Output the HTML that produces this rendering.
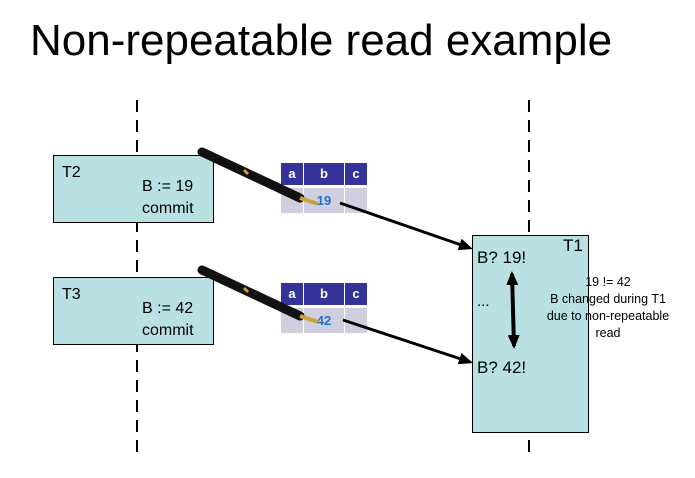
<!DOCTYPE html>
<html><head><style>
body{margin:0;width:695px;height:478px;background:#fff;position:relative;overflow:hidden;font-family:"Liberation Sans",sans-serif}
.t{position:absolute;white-space:nowrap}
.box{position:absolute;background:#b9e0e3;border:1px solid #000;box-sizing:border-box}
.h{position:absolute;background:#333399;color:#fff;font-weight:bold;font-size:13px;text-align:center;line-height:22px}
.d{position:absolute;background:#cfcfe0;color:#1f72c8;font-weight:bold;font-size:13px;text-align:center;line-height:25px}
</style></head><body>
<div class="t" style="left:30px;top:16px;font-size:44px">Non-repeatable read example</div>
<svg width="695" height="478" style="position:absolute;left:0;top:0">
<line x1="137" y1="100" x2="137" y2="460" stroke="#000" stroke-width="2" stroke-dasharray="12,8"/>
<line x1="529" y1="100" x2="529" y2="460" stroke="#000" stroke-width="2" stroke-dasharray="12,8"/>
</svg>
<div class="box" style="left:53px;top:155px;width:161px;height:68px"></div>
<div class="t" style="left:62px;top:164px;font-size:16px">T2</div>
<div class="t" style="left:142px;top:178px;font-size:16px">B := 19</div>
<div class="t" style="left:142px;top:200px;font-size:16px">commit</div>
<div class="box" style="left:53px;top:277px;width:161px;height:68px"></div>
<div class="t" style="left:62px;top:286px;font-size:16px">T3</div>
<div class="t" style="left:142px;top:300px;font-size:16px">B := 42</div>
<div class="t" style="left:142px;top:322px;font-size:16px">commit</div>
<div class="box" style="left:472px;top:235px;width:117px;height:198px"></div>
<div class="t" style="left:563px;top:236px;font-size:17px">T1</div>
<div class="t" style="left:477px;top:248px;font-size:17px">B? 19!</div>
<div class="t" style="left:477px;top:293px;font-size:15px">...</div>
<div class="t" style="left:477px;top:358px;font-size:17px">B? 42!</div>
<div class="t" style="left:528px;top:274px;width:160px;text-align:center;font-size:12.5px;line-height:17px;white-space:normal">19 != 42<br>B changed during T1<br>due to non-repeatable<br>read</div>
<div class="h" style="left:281px;top:163px;width:22px">a</div>
<div class="h" style="left:304px;top:163px;width:40px">b</div>
<div class="h" style="left:345px;top:163px;width:22px">c</div>
<div class="d" style="left:281px;top:188px;width:22px">&nbsp;</div>
<div class="d" style="left:304px;top:188px;width:40px">19</div>
<div class="d" style="left:345px;top:188px;width:22px">&nbsp;</div>
<div class="h" style="left:281px;top:283px;width:22px">a</div>
<div class="h" style="left:304px;top:283px;width:40px">b</div>
<div class="h" style="left:345px;top:283px;width:22px">c</div>
<div class="d" style="left:281px;top:308px;width:22px">&nbsp;</div>
<div class="d" style="left:304px;top:308px;width:40px">42</div>
<div class="d" style="left:345px;top:308px;width:22px">&nbsp;</div>
<svg width="695" height="478" style="position:absolute;left:0;top:0">
<defs>
<marker id="b" markerWidth="14" markerHeight="12" refX="11" refY="6" orient="auto-start-reverse" markerUnits="userSpaceOnUse"><path d="M0,0 L14,6 L0,12z"/></marker></defs>
<line x1="340" y1="203" x2="470" y2="248" stroke="#000" stroke-width="3" marker-end="url(#b)"/>
<line x1="343" y1="320" x2="470" y2="362" stroke="#000" stroke-width="3" marker-end="url(#b)"/>
<line x1="512" y1="274" x2="514" y2="346" stroke="#000" stroke-width="4" marker-start="url(#b)" marker-end="url(#b)"/>
<g><line x1="202" y1="152" x2="300" y2="198" stroke="#111" stroke-width="9" stroke-linecap="round"/>
<line x1="244" y1="170" x2="248" y2="174" stroke="#c9a23a" stroke-width="3"/>
<line x1="300" y1="198" x2="318" y2="204" stroke="#c9a23a" stroke-width="4"/></g>
<g><line x1="202" y1="270" x2="300" y2="316" stroke="#111" stroke-width="9" stroke-linecap="round"/>
<line x1="244" y1="288" x2="248" y2="292" stroke="#c9a23a" stroke-width="3"/>
<line x1="300" y1="316" x2="318" y2="322" stroke="#c9a23a" stroke-width="4"/></g>
</svg>
</body></html>
